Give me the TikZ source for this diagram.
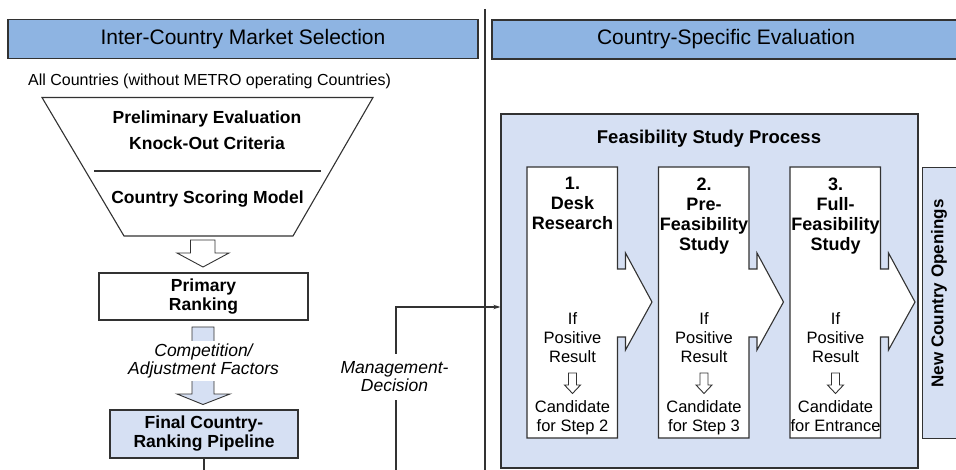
\documentclass[tikz,border=0pt]{standalone}
\usepackage{fontspec}
\setmainfont{Liberation Sans}
\usetikzlibrary{arrows.meta, positioning, calc}

\definecolor{headblue}{RGB}{142,180,226}
\definecolor{paleblue}{RGB}{214,224,243}
\definecolor{edgegray}{RGB}{50,50,50}

\begin{document}
\begin{tikzpicture}[x=1pt, y=-1pt, line width=1.1pt,
    header/.style={draw=edgegray, fill=headblue, inner sep=0pt, font=\fontsize{21}{24}\selectfont},
    whitebox/.style={draw=edgegray, fill=white, align=center, inner sep=0pt, font=\fontsize{17.5}{19}\selectfont\bfseries},
    palebox/.style={whitebox, fill=paleblue},
    boldtext/.style={inner sep=0pt, align=center, font=\fontsize{17.5}{20}\selectfont\bfseries},
    plaintext/.style={inner sep=0pt, align=center, font=\fontsize{16.5}{18.8}\selectfont},
    remark/.style={fill=white, align=center, inner xsep=1pt, font=\fontsize{17.5}{18}\selectfont\itshape},
    stephead/.style={boldtext, font=\fontsize{18}{20}\selectfont\bfseries},
    blockarrow/.style={draw=edgegray, line width=0.9pt}
  ]
  \useasboundingbox (0,0) rectangle (956,470);
  \clip (0,0) rectangle (956,470);

  % headers and divider
  \node[header, minimum width=470, minimum height=38.5] (lefthead) at (243,39) {Inter-Country Market Selection};
  \node[header, minimum width=468, minimum height=39] (righthead) at (726,39.5) {Country-Specific Evaluation};
  \draw[edgegray, line width=1.3pt] (485,9) -- (485,470);

  % funnel
  \node[plaintext, anchor=base, font=\fontsize{16}{18}\selectfont] (allc) at (209.5,86) {All Countries (without METRO operating Countries)};
  \draw[edgegray, fill=white] (42,97.5) -- (373,97.5) -- (293,236) -- (124,236) -- cycle;
  \draw[edgegray] (94,171) -- (321,171);
  \node[boldtext, anchor=base] (prelim) at (207,124) {Preliminary Evaluation};
  \node[boldtext, anchor=base] (knockout) at (207,150) {Knock-Out Criteria};
  \node[boldtext, anchor=base] (scoring) at (207.5,204) {Country Scoring Model};

  \draw[blockarrow, fill=white] (190.5,240) -- (215,240) -- (215,253) -- (229,253) -- (203,267) -- (177,253) -- (190.5,253) -- cycle;

  \node[whitebox, minimum width=209, minimum height=47] (primary) at (203.5,296.5) {Primary\\Ranking};

  \draw[blockarrow, fill=paleblue] (192,327) -- (214,327) -- (214,394) -- (230,394) -- (203,404.5) -- (177,394) -- (192,394) -- cycle;
  \node[remark] (compet) at (203.5,361) {Competition/\\Adjustment Factors};

  \node[palebox, minimum width=188, minimum height=48] (final) at (204,434) {Final Country-\\Ranking Pipeline};
  \coordinate (finalfoot) at (204,470);
  \draw[edgegray] (final.south) -- (finalfoot);

  % feasibility study
  \node[palebox, line width=1.3pt, minimum width=417, minimum height=354] (feas) at (709.5,291) {};
  \node[boldtext, font=\fontsize{18.5}{20}\selectfont\bfseries] (feastitle) at (709,139) {Feasibility Study Process};

  \foreach \n/\stephead/\stepgoal in {1/{1.\\Desk\\Research}/{Step 2},
                                      2/{2.\\Pre-\\Feasibility\\Study}/{Step 3},
                                      3/{3.\\Full-\\Feasibility\\Study}/{Entrance}} {
    \pgfmathsetmacro\L{527+131.5*(\n-1)}
    \pgfmathsetmacro\R{\L+90.5}
    \pgfmathsetmacro\N{\L+98.5}
    \pgfmathsetmacro\T{\L+125}
    \pgfmathsetmacro\C{\L+45.5}
    \draw[edgegray, fill=white] (\L,167) -- (\R,167) -- (\R,269) -- (\N,269) -- (\N,253) -- (\T,302)
      -- (\N,350) -- (\N,337) -- (\R,337) -- (\R,438) -- (\L,438) -- cycle;
    \node[stephead, anchor=north] (head\n) at (\C,177) {\stephead};
    \node[plaintext] (cond\n) at (\C,337.5) {If\\Positive\\Result};
    \draw[blockarrow] ({\C-4},373) -- ({\C+4},373) -- ({\C+4},385) -- ({\C+8},385) -- (\C,393.5)
      -- ({\C-8},385) -- ({\C-4},385) -- cycle;
    \node[plaintext, anchor=north] (goal\n) at (\C,400) {Candidate\\for \stepgoal};
  }

  \node[palebox, line width=1.3pt, minimum width=44, minimum height=271, anchor=north west] (opening) at (922,167) {};
  \node[boldtext, font=\fontsize{17}{20}\selectfont\bfseries, rotate=90] (openlabel) at (939,293.5) {New Country Openings};

  % management decision
  \coordinate (mgmtfoot) at (396,470);
  \coordinate (mgmtturn) at (396,307);
  \draw[edgegray, -{Stealth[length=7pt, width=4.5pt]}] (mgmtfoot) -- (mgmtturn) -- (mgmtturn -| feas.west);
  \node[remark, inner ysep=8pt] (mgmt) at (394.5,377) {Management-\\Decision};
\end{tikzpicture}
\end{document}
